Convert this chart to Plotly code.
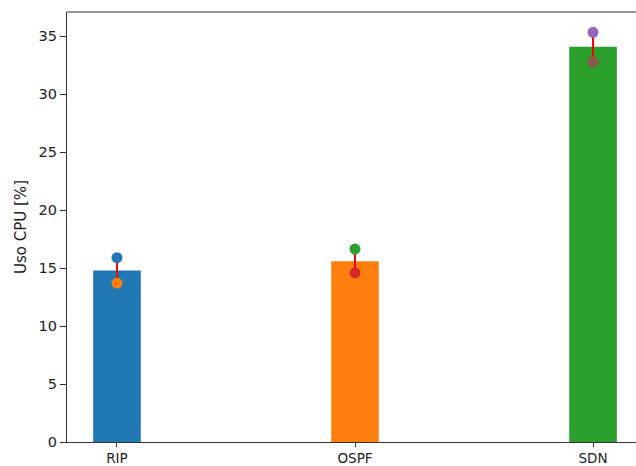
import plotly.graph_objects as go

categories = ["RIP", "OSPF", "SDN"]
cpu_mean = [14.8, 15.6, 34.1]
cpu_max = [15.9, 16.65, 35.35]
cpu_min = [13.7, 14.6, 32.8]

bar_colors = ["#1f77b4", "#ff7f0e", "#2ca02c"]
max_colors = ["#1f77b4", "#2ca02c", "#9467bd"]
min_colors = ["#ff7f0e", "#d62728", "#8c564b"]

xs = list(range(len(categories)))

fig = go.Figure()
fig.add_trace(go.Bar(x=xs, y=cpu_mean, width=0.2, marker=dict(color=bar_colors, line=dict(width=0)),
                     showlegend=False, hoverinfo="skip"))
for i in xs:
    fig.add_trace(go.Scatter(x=[i, i], y=[cpu_min[i], cpu_max[i]], mode="lines",
                             line=dict(color="red", width=2), showlegend=False, hoverinfo="skip"))
    fig.add_trace(go.Scatter(x=[i], y=[cpu_max[i]], mode="markers",
                             marker=dict(color=max_colors[i], size=11), showlegend=False))
    fig.add_trace(go.Scatter(x=[i], y=[cpu_min[i]], mode="markers",
                             marker=dict(color=min_colors[i], size=11), showlegend=False))

tfont = dict(family="DejaVu Sans", size=14.5, color="#222")
xfont = dict(family="DejaVu Sans", size=13.5, color="#222")
title_font = dict(family="DejaVu Sans", size=15, color="#222")
fig.update_layout(
    template="none",
    width=643, height=466,
    margin=dict(l=67, r=0, t=12, b=24, pad=0),
    plot_bgcolor="white", paper_bgcolor="white",
    font=tfont,
    xaxis=dict(range=[-0.21, 2.21], tickvals=xs, ticktext=categories, automargin=False,
               showgrid=False, zeroline=False, showline=True, linecolor="#333", linewidth=1.2,
               mirror=False, ticks="outside", ticklen=4, tickcolor="#333", tickfont=xfont),
    yaxis=dict(range=[0, 37.1], tickvals=[0, 5, 10, 15, 20, 25, 30, 35], automargin=False,
               showgrid=False, zeroline=False, showline=True, linecolor="#333", linewidth=1.2,
               ticks="outside", ticklen=6, tickcolor="#333", tickfont=tfont,
               title=dict(text="Uso CPU [%]", font=title_font, standoff=8)),
    shapes=[dict(type="line", xref="paper", yref="paper", x0=0, x1=1, y0=1, y1=1,
                 line=dict(color="#333", width=1.2))],
)
fig.write_html("out.html", config={"displayModeBar": False},
               post_script="document.documentElement.style.overflow='hidden';document.body.style.margin='0';document.body.style.overflow='hidden';")
